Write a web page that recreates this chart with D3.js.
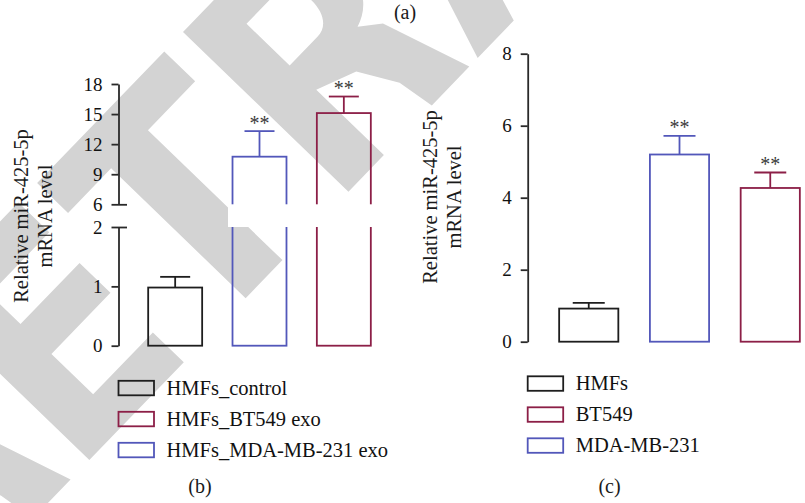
<!DOCTYPE html>
<html>
<head>
<meta charset="utf-8">
<script src="https://cdn.jsdelivr.net/npm/d3@7"></script>
<style>
    body { margin: 0; background: #fff; }
    svg { display: block; font-family: "Liberation Serif", "Times New Roman", serif; }
</style>
</head>
<body>
<svg id="chart" width="805" height="503"></svg>
<script>
// ---- panel (b): HMFs treated with exosomes (broken y axis)
const groupsB = ['HMFs_control', 'HMFs_MDA-MB-231 exo', 'HMFs_BT549 exo'];
const meanB = [0.98, 10.75, 15.1];
const errTopB = [1.16, 13.3, 16.75];
const sigB = ['', '**', '**'];
const legendB = ['HMFs_control', 'HMFs_BT549 exo', 'HMFs_MDA-MB-231 exo'];
const ticksBLow = [0, 1, 2];
const ticksBHigh = [6, 9, 12, 15, 18];

// ---- panel (c): cell lines
const groupsC = ['HMFs', 'MDA-MB-231', 'BT549'];
const meanC = [0.92, 5.2, 4.27];
const errTopC = [1.08, 5.72, 4.7];
const sigC = ['', '**', '**'];
const legendC = ['HMFs', 'BT549', 'MDA-MB-231'];
const ticksC = [0, 2, 4, 6, 8];

const yTitle = ['Relative miR-425-5p', 'mRNA level'];

const BLUE = '#5257ba', RED = '#8c1f47', BLACK = '#1e1e1e', WM = '#d3d3d3';
const colorOf = name => name.includes('BT549') ? RED : (name.includes('MDA') ? BLUE : BLACK);

const svg = d3.select('#chart');

// ---- "RETRACTED" watermark, letters in a rotated frame (cap line y=0, baseline y=230)
const wmGlyphs = {
    R: 'M0,0H95C140,0 160,30 160,68C160,100 145,116 125,122L145,138L174,230H120L114,191L92,152L51,136V230H0Z' +
       'M50,40H92C104,40 112,52 112,70C112,88 104,100 90,100H50Z',
    E: 'M0,0H136V43H50V86H135V129H50V187H136V230H0Z',
    T: 'M0,0H183V43H115V230H62V43H0Z',
    A: 'M0,230L78,0H140L218,230H166L150,180H68L52,230Z M80,135H138L109,45Z'
};
const wmWord = [['R', -574], ['E', -373], ['T', -210], ['R', 0], ['A', 186]];

const wm = svg.append('g')
    .attr('transform', 'translate(183,32) rotate(-46)');
wm.selectAll('path')
    .data(wmWord)
    .enter()
    .append('path')
    .attr('transform', d => 'translate(' + d[1] + ',0)')
    .attr('d', d => wmGlyphs[d[0]])
    .attr('fill', WM)
    .attr('fill-rule', 'evenodd');

function styleAxis(g) {
    g.attr('font-family', '"Liberation Serif", serif').attr('font-size', 19);
    g.select('.domain').attr('stroke', '#2a2a2a').attr('stroke-width', 1.8);
    g.selectAll('.tick line').attr('stroke', '#2a2a2a').attr('stroke-width', 1.8);
    g.selectAll('.tick text').attr('fill', '#111');
}

function drawBars(x, y, groups, mean, errTop, sig, capW) {
    const bw = x.bandwidth();
    const bars = svg.append('g');
    groups.forEach((g, i) => {
        const c = colorOf(g), x0 = x(g), cx = x0 + bw / 2;
        bars.append('rect')
            .attr('x', x0).attr('y', y(mean[i]))
            .attr('width', bw).attr('height', y(0) - y(mean[i]))
            .attr('fill', 'none').attr('stroke', c).attr('stroke-width', 1.8);
        bars.append('line')
            .attr('x1', cx).attr('x2', cx)
            .attr('y1', y(mean[i])).attr('y2', y(errTop[i]))
            .attr('stroke', c).attr('stroke-width', 1.8);
        bars.append('line')
            .attr('x1', cx - capW / 2).attr('x2', cx + capW / 2)
            .attr('y1', y(errTop[i])).attr('y2', y(errTop[i]))
            .attr('stroke', c).attr('stroke-width', 1.8);
        if (sig[i]) {
            bars.append('text')
                .attr('x', cx).attr('y', y(errTop[i]) - 1.5)
                .attr('text-anchor', 'middle')
                .attr('font-size', 20).attr('fill', '#3a3a3a')
                .text(sig[i]);
        }
    });
}

function drawLegend(x0, y0, items) {
    const lg = svg.append('g');
    items.forEach((name, i) => {
        const cy = y0 + i * 31;
        lg.append('rect')
            .attr('x', x0).attr('y', cy - 7.2)
            .attr('width', 35.5).attr('height', 14.5)
            .attr('fill', 'none').attr('stroke', colorOf(name)).attr('stroke-width', 1.8);
        lg.append('text')
            .attr('x', x0 + 48).attr('y', cy + 6.5)
            .attr('font-size', 20.5).attr('fill', '#111')
            .text(name);
    });
}

function drawYTitle(x1, x2, cy) {
    [x1, x2].forEach((xx, i) => {
        svg.append('text')
            .attr('transform', 'translate(' + xx + ',' + cy + ') rotate(-90)')
            .attr('text-anchor', 'middle')
            .attr('font-size', 20.5).attr('fill', '#1a1a1a')
            .text(yTitle[i]);
    });
}

// ---------------- panel (b)
const xB = d3.scaleBand().domain(groupsB).range([133, 386]).paddingInner(0.36).paddingOuter(0.18);
const yB = d3.scaleLinear().domain([0, 2, 6, 18]).range([345.7, 227, 204.3, 84]);
const yBLow = d3.scaleLinear().domain([0, 2]).range([345.7, 227]);
const yBHigh = d3.scaleLinear().domain([6, 18]).range([204.3, 84]);

drawBars(xB, yB, groupsB, meanB, errTopB, sigB, 30);

// white gap of the axis break
svg.append('rect')
    .attr('x', xB(groupsB[1]) - 4.5)
    .attr('y', yB(6))
    .attr('width', xB(groupsB[2]) + xB.bandwidth() + 2.5 - (xB(groupsB[1]) - 4.5))
    .attr('height', yB(2) - yB(6))
    .attr('fill', '#fff');

const axB = svg.append('g').attr('transform', 'translate(118.5,0)');
axB.append('g')
    .call(d3.axisLeft(yBLow).tickValues(ticksBLow).tickSize(7).tickSizeOuter(0).tickPadding(9).tickFormat(d3.format('d')))
    .call(styleAxis);
axB.append('g')
    .call(d3.axisLeft(yBHigh).tickValues(ticksBHigh).tickSize(7).tickSizeOuter(0).tickPadding(9).tickFormat(d3.format('d')))
    .call(styleAxis);
// break ticks cross the axis
axB.selectAll('.tick line')
    .filter(d => d === 2 || d === 6)
    .attr('x1', 8.5);

drawYTitle(28, 52, 216);
drawLegend(118.5, 388, legendB);

// ---------------- panel (c)
const xC = d3.scaleBand().domain(groupsC).range([541, 818]).paddingInner(0.348).paddingOuter(0.2);
const yC = d3.scaleLinear().domain([0, 8]).range([341.7, 53.7]);

drawBars(xC, yC, groupsC, meanC, errTopC, sigC, 32);

svg.append('g')
    .attr('transform', 'translate(527.7,0)')
    .call(d3.axisLeft(yC).tickValues(ticksC).tickSize(7).tickSizeOuter(0).tickPadding(9))
    .call(styleAxis);

drawYTitle(437, 461, 197);
drawLegend(527.7, 383.5, legendC);

// ---------------- panel captions
[['(a)', 405, 19], ['(b)', 200, 493], ['(c)', 609.5, 493]].forEach(t => {
    svg.append('text')
        .attr('x', t[1]).attr('y', t[2])
        .attr('text-anchor', 'middle')
        .attr('font-size', 20).attr('fill', '#1a1a1a')
        .text(t[0]);
});
</script>
</body>
</html>
